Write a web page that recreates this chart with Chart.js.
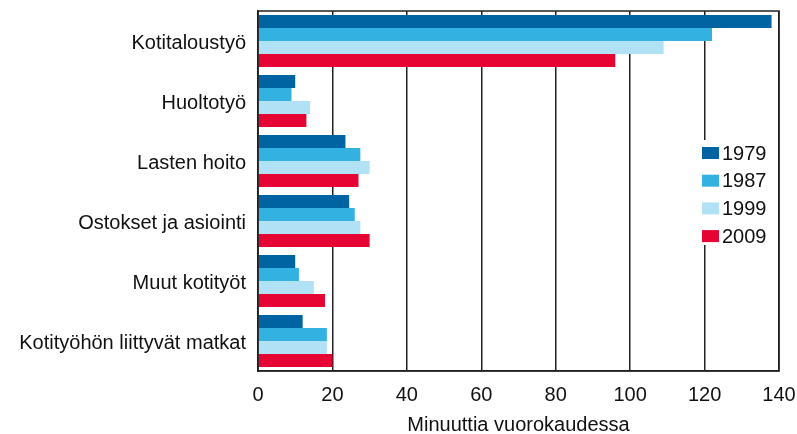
<!DOCTYPE html>
<html>
<head>
<meta charset="utf-8">
<script src="https://cdn.jsdelivr.net/npm/chart.js@4"></script>
<style>
  html, body { margin:0; padding:0; background:#fff; }
  #wrap { width:797px; height:434px; }
</style>
</head>
<body>
<div id="wrap"><canvas id="kotityo"></canvas></div>
<script>
var categories = ["Kotitaloustyö", "Huoltotyö", "Lasten hoito", "Ostokset ja asiointi", "Muut kotityöt", "Kotityöhön liittyvät matkat"];
var years = ["1979", "1987", "1999", "2009"];
var v1979 = [138, 10, 23.5, 24.5, 10, 12];
var v1987 = [122, 9, 27.5, 26, 11, 18.5];
var v1999 = [109, 14, 30, 27.5, 15, 18.5];
var v2009 = [96, 13, 27, 30, 18, 20];
var xTicks = [0, 20, 40, 60, 80, 100, 120, 140];
var colors = ["#0064a2", "#33b1e1", "#b1e1f5", "#e60434"];

var FONT = "'Liberation Sans', Arial, sans-serif";

//********************************************** */
// frame around the plot + legend drawn inside the plot on a white box
var frameAndLegend = {
    id: "frameAndLegend",
    afterDatasetsDraw(chart){
        let ctx = chart.ctx;
        let a = chart.chartArea;
        ctx.save();
        ctx.strokeStyle = "#222";
        ctx.lineWidth = 1.5;
        ctx.strokeRect(a.left, a.top, a.right - a.left, a.bottom - a.top);

        let x0 = 700, y0 = 140, rowH = 27.7;
        ctx.fillStyle = "#fff";
        ctx.fillRect(x0 - 3, y0, 76, 105);
        ctx.font = "20px " + FONT;
        ctx.textBaseline = "middle";
        chart.data.datasets.forEach(function(ds, i){
            let cy = y0 + 13 + i * rowH;
            ctx.fillStyle = ds.backgroundColor;
            ctx.fillRect(x0 + 2, cy - 6, 17, 12);
            ctx.fillStyle = "#111";
            ctx.fillText(ds.label, x0 + 22, cy + 1);
        });
        ctx.restore();
    }
};

var datasets = [v1979, v1987, v1999, v2009].map(function(vals, i){
    return {
        label: years[i],
        data: vals,
        backgroundColor: colors[i],
        borderWidth: 0,
        barPercentage: 1.0,
        categoryPercentage: 0.87,
    };
});

new Chart("kotityo", {
    type: "bar",
    data: { labels: categories, datasets: datasets },
    options: {
        indexAxis: "y",
        responsive: true,
        maintainAspectRatio: false,
        animation: false,
        layout: { padding: { top: 11, right: 0, left: 0, bottom: 0 } },
        scales: {
            x: {
                min: 0, max: 140,
                afterBuildTicks: function(axis){ axis.ticks = xTicks.map(function(v){ return {value: v}; }); },
                afterFit: function(axis){ axis.height = 63; axis.paddingLeft = 0; axis.paddingRight = 18; },
                grid: { color: "#222", lineWidth: 1.5, drawTicks: false },
                border: { color: "#222", width: 1.5 },
                ticks: { color: "#111", font: { size: 20, family: FONT }, padding: 12 },
                title: { display: true, text: "Minuuttia vuorokaudessa", color: "#111",
                         font: { size: 20, family: FONT }, padding: { top: 0, bottom: -3 } },
            },
            y: {
                afterFit: function(axis){ axis.width = 258; axis.paddingTop = 0; axis.paddingBottom = 0; },
                grid: { display: false, drawTicks: false },
                border: { color: "#222", width: 1.5 },
                ticks: { color: "#111", font: { size: 20, family: FONT }, padding: 12, labelOffset: 2 },
            },
        },
        plugins: { legend: { display: false }, tooltip: { enabled: false } }
    },
    plugins: [frameAndLegend]
});
</script>
</body>
</html>
